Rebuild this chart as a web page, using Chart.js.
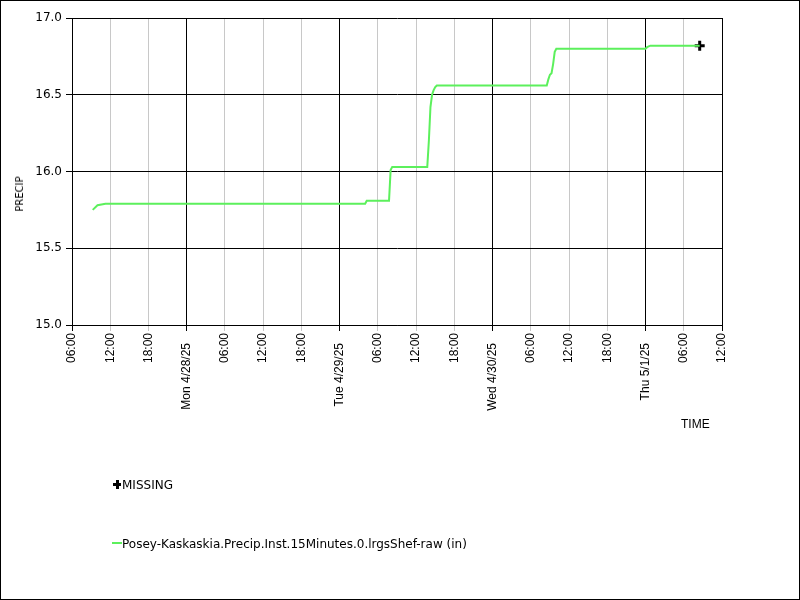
<!DOCTYPE html>
<html>
<head>
<meta charset="utf-8">
<script src="https://cdn.jsdelivr.net/npm/chart.js@4/dist/chart.umd.min.js"></script>
<style>
  html, body { margin: 0; padding: 0; background: #fff; }
  #wrap { position: relative; width: 800px; height: 600px; }
  #c { position: absolute; left: 0; top: 0; }
  .t { position: absolute; font-family: "DejaVu Sans", sans-serif; color: #000; white-space: nowrap; }
</style>
</head>
<body>
<div id="wrap">
  <canvas id="c" width="800" height="600"></canvas>
  <div class="t" id="ytitle" style="font-size:10px; line-height:12px; left:20px; top:194px; transform: translate(-50%,-50%) rotate(-90deg);">PRECIP</div>
  <div class="t" style="font-family:'Liberation Sans',Arial,sans-serif; font-size:12px; line-height:14px; left:681px; top:417px;">TIME</div>
  <div style="position:absolute; left:113px; top:483px; width:8px; height:3px; background:#000;"></div>
  <div style="position:absolute; left:116px; top:480px; width:3px; height:9px; background:#000;"></div>
  <div class="t" style="font-size:12px; line-height:14px; left:122px; top:477.5px;">MISSING</div>
  <div style="position:absolute; left:112px; top:542px; width:10px; height:2px; background:rgb(92,240,92);"></div>
  <div class="t" style="font-size:12px; line-height:14px; left:122px; top:536.5px;">Posey-Kaskaskia.Precip.Inst.15Minutes.0.lrgsShef-raw (in)</div>
</div>
<script>
// ---- data (times are 2025 local, "M/D HH:MM") ----
const seriesTimes = [
  "4/27 09:15", "4/27 10:00", "4/27 11:15", "4/29 04:00", "4/29 04:15",
  "4/29 07:45", "4/29 08:00", "4/29 08:15", "4/29 13:45", "4/29 14:00",
  "4/29 14:15", "4/29 14:30", "4/29 14:45", "4/29 15:00", "4/29 15:15",
  "4/30 08:30", "4/30 08:45", "4/30 09:00", "4/30 09:15", "4/30 09:30",
  "4/30 09:45", "4/30 10:00", "5/1 00:00", "5/1 00:15", "5/1 00:45",
  "5/1 08:30"
];
const seriesValues = [
  15.75, 15.78, 15.79, 15.79, 15.81,
  15.81, 16.01, 16.03, 16.03, 16.20,
  16.42, 16.50, 16.53, 16.55, 16.56,
  16.56, 16.60, 16.63, 16.64, 16.70,
  16.78, 16.80, 16.80, 16.81, 16.82,
  16.82
];
const missingTimes = ["5/1 08:30"];
const missingValues = [16.82];

const dayLabels = ["Sun 4/27/25", "Mon 4/28/25", "Tue 4/29/25", "Wed 4/30/25", "Thu 5/1/25"];
const hourLabels = ["00:00", "06:00", "12:00", "18:00"];
const yTicks = [15.0, 15.5, 16.0, 16.5, 17.0];
const xRange = ["4/27 06:00", "5/1 12:00"];

// hours since 4/27/25 00:00
function toHours(s) {
  const [md, hm] = s.split(" ");
  const [m, d] = md.split("/").map(Number);
  const [hh, mm] = hm.split(":").map(Number);
  return (Date.UTC(2025, m - 1, d, hh, mm) - Date.UTC(2025, 3, 27, 0, 0)) / 3600000;
}

const lineData = seriesTimes.map((t, i) => ({ x: toHours(t), y: seriesValues[i] }));
const missData = missingTimes.map((t, i) => ({ x: toHours(t), y: missingValues[i] }));
const xMin = toHours(xRange[0]), xMax = toHours(xRange[1]);

function isMajor(v) { return v % 24 === 0 || v === xMin || v === xMax; }

const framePlugin = {
  id: 'frame',
  afterDraw(chart) {
    const ctx = chart.ctx;
    ctx.save();
    ctx.strokeStyle = '#000';
    ctx.lineWidth = 1;
    ctx.strokeRect(0.5, 0.5, 799, 599);
    ctx.restore();
  }
};

new Chart(document.getElementById('c'), {
  type: 'line',
  data: {
    datasets: [
      {
        label: 'Posey-Kaskaskia.Precip.Inst.15Minutes.0.lrgsShef-raw (in)',
        data: lineData,
        borderColor: 'rgb(92,240,92)',
        borderWidth: 2,
        pointRadius: 0,
        tension: 0,
        fill: false
      },
      {
        label: 'MISSING',
        data: missData,
        showLine: false,
        pointStyle: 'cross',
        pointRadius: 5,
        pointBorderWidth: 3,
        borderColor: '#000',
        backgroundColor: '#000'
      }
    ]
  },
  options: {
    responsive: false,
    animation: false,
    events: [],
    layout: { padding: { top: 18, right: 78, left: 0, bottom: 0 } },
    plugins: { legend: { display: false }, tooltip: { enabled: false } },
    scales: {
      x: {
        type: 'linear',
        min: xMin,
        max: xMax,
        afterFit(s) { s.height = 275; },
        afterBuildTicks(s) {
          const t = [];
          for (let v = xMin; v <= xMax; v += 6) t.push({ value: v });
          s.ticks = t;
        },
        ticks: {
          autoSkip: false,
          minRotation: 90,
          maxRotation: 90,
          padding: 2,
          color: '#000',
          font: { family: "'Liberation Sans'", size: 12 },
          callback(v) {
            if (v % 24 === 0) return dayLabels[v / 24] + '   ';
            return hourLabels[(v % 24) / 6];
          }
        },
        grid: {
          color: (c) => (c.tick && isMajor(c.tick.value)) ? '#000' : '#c8c8c8',
          tickLength: 6,
          lineWidth: 1
        },
        border: { color: '#000' }
      },
      y: {
        min: 15,
        max: 17,
        afterFit(s) { s.width = 72; },
        afterBuildTicks(s) { s.ticks = yTicks.map(v => ({ value: v })); },
        ticks: {
          color: '#000',
          padding: 4,
          font: { family: "'DejaVu Sans'", size: 12 },
          callback: (v) => Number(v).toFixed(1)
        },
        grid: { color: '#000', tickLength: 6, lineWidth: 1 },
        border: { color: '#000' }
      }
    }
  },
  plugins: [framePlugin]
});
</script>
</body>
</html>
